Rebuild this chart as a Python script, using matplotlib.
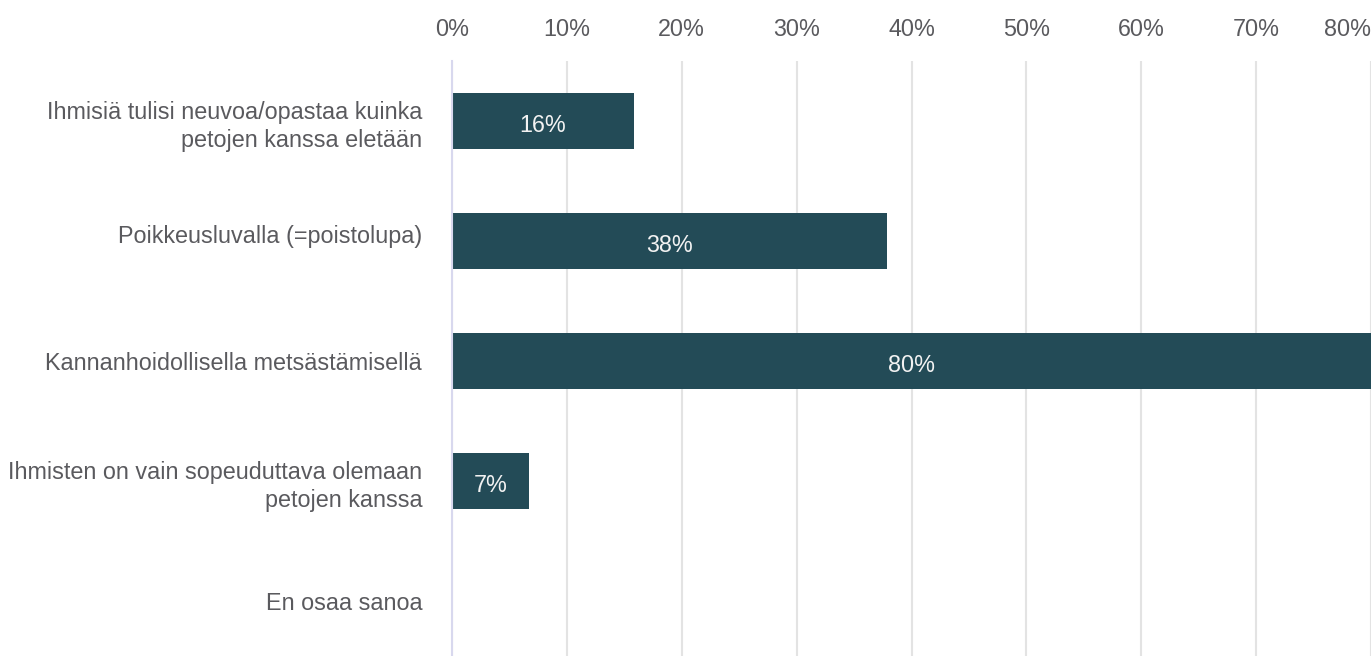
import matplotlib
matplotlib.use("Agg")
import matplotlib.pyplot as plt
from matplotlib.ticker import FuncFormatter
import matplotlib.transforms as mtransforms

categories = [
    "Ihmisiä tulisi neuvoa/opastaa kuinka\npetojen kanssa eletään",
    "Poikkeusluvalla (=poistolupa)",
    "Kannanhoidollisella metsästämisellä",
    "Ihmisten on vain sopeuduttava olemaan\npetojen kanssa",
    "En osaa sanoa",
]
values = [15.8, 37.9, 80.0, 6.7, 0.0]
xticks = [0, 10, 20, 30, 40, 50, 60, 70, 80]

plt.rcParams['font.family'] = ['Liberation Sans', 'DejaVu Sans']

W, H = 1371, 656
fig = plt.figure(figsize=(W / 100, H / 100), dpi=100)
ax = fig.add_axes([452 / W, -5 / H, 1 - 452 / W, (H - 61 + 5) / H])

FS = 16.8
bar_color = "#234B57"
text_color = "#5A5A5E"
ypos = list(range(len(categories)))
ax.barh(ypos, values, height=0.47, color=bar_color, zorder=3)
for y, v in zip(ypos, values):
    if v > 0:
        ax.text(v / 2, y + 0.035, f"{round(v):d}%", ha="center", va="center",
                color="#F2F2F2", fontsize=FS, zorder=4)

ax.set_xlim(0, 80)
ax.set_ylim(len(categories) - 0.5, -0.5)
ax.set_yticks(ypos)
ax.set_yticklabels(categories, fontsize=FS, color=text_color, linespacing=1.3)
ax.set_xticks(xticks)
ax.xaxis.set_major_formatter(FuncFormatter(lambda x, p: f"{x:.0f}%"))
ax.xaxis.tick_top()
ax.tick_params(axis="x", length=0, pad=14.7, labelsize=FS, labelcolor=text_color)
ax.tick_params(axis="y", length=0, pad=21.5)
ax.grid(axis="x", color="#E3E3E3", linewidth=1.5, zorder=0)
for s in ["top", "right", "bottom"]:
    ax.spines[s].set_visible(False)
ax.spines["left"].set_color("#D8D8EE")
ax.spines["left"].set_linewidth(1.5)
ax.spines["left"].set_zorder(5)

fig.canvas.draw()
xlabels = ax.get_xticklabels()
xlabels[-1].set_horizontalalignment("right")
ylabels = ax.get_yticklabels()
ylabels[1].set_transform(ylabels[1].get_transform() +
                         mtransforms.ScaledTranslation(0, 7 / 100, fig.dpi_scale_trans))

fig.savefig("out.png", dpi=100)
